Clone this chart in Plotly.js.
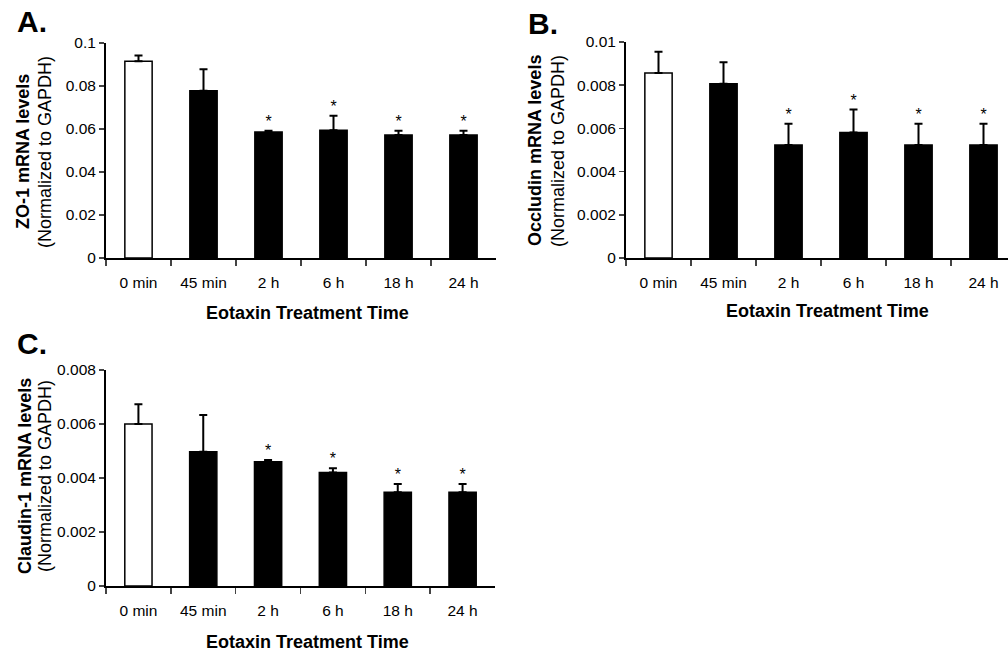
<!DOCTYPE html>
<html>
<head>
<meta charset="utf-8">
<script src="https://cdn.plot.ly/plotly-3.0.1.min.js"></script>
<style>html,body{margin:0;padding:0;background:#fff;}#chart{width:1008px;height:652px;}</style>
</head>
<body>
<div id="chart"></div>
<script>
const categories = ['0 min', '45 min', '2 h', '6 h', '18 h', '24 h'];
const zo1Mean = [0.0915, 0.0778, 0.0586, 0.0594, 0.0572, 0.0572];
const zo1Err = [0.0027, 0.0100, 0.0006, 0.0068, 0.0020, 0.0020];
const occludinMean = [0.00856, 0.00807, 0.00523, 0.00581, 0.00523, 0.00523];
const occludinErr = [0.00099, 0.00099, 0.00099, 0.00106, 0.00099, 0.00099];
const claudinMean = [0.0060, 0.00497, 0.0046, 0.0042, 0.00347, 0.00347];
const claudinErr = [0.00073, 0.00136, 0.00007, 0.00016, 0.00031, 0.00031];
const significance = ['', '', '*', '*', '*', '*'];
const panelLetters = ['A.', 'B.', 'C.'];
const yTitles = ['ZO-1 mRNA levels', 'Occludin mRNA levels', 'Claudin-1 mRNA levels'];
const ySubTitle = '(Normalized to GAPDH)';
const xTitle = 'Eotaxin Treatment Time';
const yMax = [0.1, 0.01, 0.008];
const yStep = [0.02, 0.002, 0.002];

const W = 1008, H = 652;
const FONT = 'Arial, "Liberation Sans", sans-serif';
const px = v => v / W;
const py = v => 1 - v / H;

// pixel geometry of each panel: [left, right, top, bottom]
const boxes = [
  {l: 106, r: 496, t: 43, b: 258, xr: [-0.5, 5.5]},
  {l: 626, r: 1008, t: 42, b: 258, xr: [-0.5, -0.5 + (1008 - 626) / 65]},
  {l: 106, r: 495, t: 370, b: 586, xr: [-0.5, 5.5]}
];
const letterPos = [[32, 21], [543, 23], [32, 344]];
const yTitlePos = [[23, 45, 152], [535, 558, 151], [25, 45, 476]];
const xTitlePos = [[307, 313], [827, 311], [307, 642]];

const series = [[zo1Mean, zo1Err], [occludinMean, occludinErr], [claudinMean, claudinErr]];
const barColors = categories.map((c, i) => i === 0 ? '#ffffff' : '#000000');

const data = [];
const layout = {
  width: W, height: H,
  margin: {l: 0, r: 0, t: 0, b: 0},
  paper_bgcolor: '#ffffff', plot_bgcolor: 'rgba(0,0,0,0)',
  showlegend: false,
  font: {family: FONT, color: '#000', size: 15.5},
  annotations: []
};

series.forEach((s, k) => {
  const xa = k === 0 ? 'x' : 'x' + (k + 1);
  const ya = k === 0 ? 'y' : 'y' + (k + 1);
  const [mean, err] = s;
  data.push({
    type: 'bar', x: categories, y: mean, xaxis: xa, yaxis: ya,
    width: 0.42,
    marker: {color: barColors, line: {color: '#000', width: 1.5}},
    error_y: {type: 'data', array: err, arrayminus: err.map(() => 0), symmetric: false,
              color: '#000', thickness: 2, width: 4},
    hoverinfo: 'skip'
  });
  data.push({
    type: 'scatter', mode: 'text', x: categories,
    y: mean.map((m, i) => m + err[i]),
    text: significance, textposition: 'top center',
    textfont: {family: FONT, size: 16, color: '#000'},
    xaxis: xa, yaxis: ya, hoverinfo: 'skip', cliponaxis: false
  });
  const b = boxes[k];
  const axKey = k === 0 ? '' : String(k + 1);
  layout['xaxis' + axKey] = {
    domain: [px(b.l), px(b.r)], anchor: ya, range: b.xr,
    type: 'category', tickson: 'boundaries', ticks: 'outside', ticklen: 6, tickwidth: 1.5,
    showline: true, linecolor: '#000', linewidth: 2, showgrid: false, zeroline: false,
    tickfont: {family: FONT, size: 15.5, color: '#000'}, ticklabelstandoff: 9, fixedrange: true
  };
  layout['yaxis' + axKey] = {
    domain: [py(b.b), py(b.t)], anchor: xa, range: [0, yMax[k]],
    dtick: yStep[k], tick0: 0, ticks: 'outside', ticklen: 5, tickwidth: 1.5,
    showline: true, linecolor: '#000', linewidth: 2, showgrid: false, zeroline: false,
    tickfont: {family: FONT, size: 15.5, color: '#000'}, ticklabelstandoff: 0, fixedrange: true
  };
  layout.annotations.push({
    text: '<b>' + panelLetters[k] + '</b>', xref: 'paper', yref: 'paper',
    x: px(letterPos[k][0]), y: py(letterPos[k][1]), xanchor: 'center', yanchor: 'middle',
    showarrow: false, font: {family: FONT, size: 30, color: '#000'}
  });
  layout.annotations.push({
    text: '<b>' + yTitles[k] + '</b>', xref: 'paper', yref: 'paper',
    x: px(yTitlePos[k][0]), y: py(yTitlePos[k][2]), xanchor: 'center', yanchor: 'middle',
    textangle: -90, showarrow: false, align: 'center',
    font: {family: FONT, size: 18, color: '#000'}
  });
  layout.annotations.push({
    text: ySubTitle, xref: 'paper', yref: 'paper',
    x: px(yTitlePos[k][1]), y: py(yTitlePos[k][2]), xanchor: 'center', yanchor: 'middle',
    textangle: -90, showarrow: false, align: 'center',
    font: {family: FONT, size: 18, color: '#000'}
  });
  layout.annotations.push({
    text: '<b>' + xTitle + '</b>', xref: 'paper', yref: 'paper',
    x: px(xTitlePos[k][0]), y: py(xTitlePos[k][1]), xanchor: 'center', yanchor: 'middle',
    showarrow: false, font: {family: FONT, size: 18, color: '#000'}
  });
});

Plotly.newPlot('chart', data, layout, {displayModeBar: false, staticPlot: true});
</script>
</body>
</html>
